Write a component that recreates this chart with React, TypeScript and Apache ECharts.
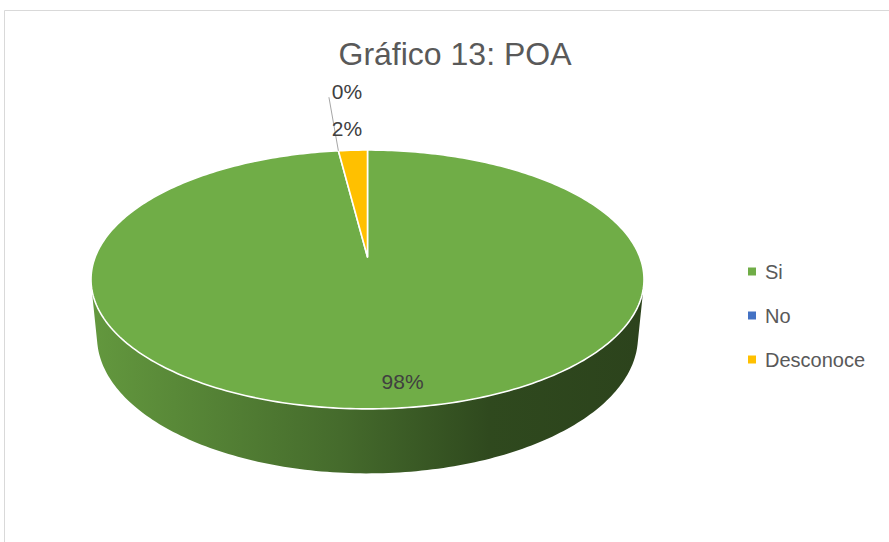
import React, { useEffect, useRef } from "react";
import * as echarts from "echarts";

// ---- data ----
const categories = ["Si", "No", "Desconoce"];
const values = [98, 0, 2];
const colors = ["#70AD47", "#4472C4", "#FFC000"];
const titleText = "Gráfico 13: POA";

// ---- 3D pie projection parameters (perspective camera) ----
const CX = 367.5;
const CY = 257;
const K = 1390.6;
const DIST = 5.107;
const EC = 0.887; // cos(elevation)
const ES = 0.461; // sin(elevation)
const THICK = 0.24;

const total = values.reduce((a, b) => a + b, 0);
const starts: number[] = [];
const ends: number[] = [];
{
  let acc = 0;
  values.forEach((v) => {
    starts.push((acc / total) * 360);
    acc += v;
    ends.push((acc / total) * 360);
  });
}

function proj(phiDeg: number, r: number, z: number): number[] {
  const a = (phiDeg * Math.PI) / 180;
  const u = r * Math.sin(a);
  const v = r * Math.cos(a);
  const depth = DIST + v * EC - z * ES;
  return [CX + (K * u) / depth, CY - (K * (v * ES + z * EC)) / depth];
}

function shade(hex: string, f: number): string {
  const h = hex.replace("#", "");
  const r = Math.round(parseInt(h.slice(0, 2), 16) * f);
  const g = Math.round(parseInt(h.slice(2, 4), 16) * f);
  const b = Math.round(parseInt(h.slice(4, 6), 16) * f);
  return `rgb(${r},${g},${b})`;
}

const VIS_MIN = (Math.acos(-1 / (DIST * EC)) * 180) / Math.PI;
const VIS_MAX = 360 - VIS_MIN;

function arcPoints(a0: number, a1: number, r: number, z: number): number[][] {
  const pts: number[][] = [];
  const step = a1 >= a0 ? 1 : -1;
  let a = a0;
  while (true) {
    const aa = step > 0 ? Math.min(a, a1) : Math.max(a, a1);
    pts.push(proj(aa, r, z));
    if (aa === a1) break;
    a += step;
  }
  return pts;
}

export default function App() {
  const ref = useRef<HTMLDivElement>(null);
  useEffect(() => {
    const chart = echarts.init(ref.current!, null, { renderer: "svg" });
    const xa = proj(VIS_MIN, 1, 0)[0];
    const xb = proj(VIS_MAX, 1, 0)[0];
    const leftX = Math.min(xa, xb);
    const rightX = Math.max(xa, xb);
    const font = "Liberation Sans, Arial, sans-serif";

    const sideSeries: any = {
      type: "custom",
      name: "side",
      coordinateSystem: "none",
      z: 1,
      silent: true,
      data: values.map((v, i) => [v, i]),
      renderItem: (params: any) => {
        const i = params.dataIndex;
        const a0 = Math.max(starts[i], VIS_MIN);
        const a1 = Math.min(ends[i], VIS_MAX);
        if (a1 <= a0) return { type: "group", children: [] };
        const pts = arcPoints(a0, a1, 1, 0).concat(arcPoints(a1, a0, 1, -THICK));
        const c = colors[i];
        return {
          type: "polygon",
          shape: { points: pts },
          style: {
            fill: {
              type: "linear",
              x: leftX,
              y: 0,
              x2: rightX,
              y2: 0,
              global: true,
              colorStops: [
                { offset: 0, color: shade(c, 0.88) },
                { offset: 0.45, color: shade(c, 0.62) },
                { offset: 0.72, color: shade(c, 0.42) },
                { offset: 1, color: shade(c, 0.39) },
              ],
            },
          },
        };
      },
    };

    const topSeries: any = {
      type: "custom",
      name: "top",
      coordinateSystem: "none",
      z: 2,
      silent: true,
      data: values.map((v, i) => [v, i]),
      renderItem: (params: any) => {
        const i = params.dataIndex;
        if (ends[i] - starts[i] <= 0) return { type: "group", children: [] };
        const pts = [proj(0, 0, 0)].concat(arcPoints(starts[i], ends[i], 1, 0));
        return {
          type: "polygon",
          shape: { points: pts },
          style: { fill: colors[i], stroke: "#ffffff", lineWidth: 1.6, lineJoin: "round" },
        };
      },
    };

    const smallIdx = values
      .map((v, i) => i)
      .filter((i) => values[i] / total < 0.1)
      .sort((a, b) => b - a);

    const labelSeries: any = {
      type: "custom",
      name: "labels",
      coordinateSystem: "none",
      z: 3,
      silent: true,
      data: values.map((v, i) => [v, i]),
      renderItem: (params: any) => {
        const i = params.dataIndex;
        const mid = (starts[i] + ends[i]) / 2;
        const txt = Math.round((values[i] / total) * 100) + "%";
        const textStyle = {
          fontFamily: font,
          fontSize: 21,
          fill: "#404040",
          align: "center",
          verticalAlign: "middle",
        };
        if (values[i] / total >= 0.1) {
          const p = proj(mid, 0.85, 0);
          return {
            type: "text",
            x: p[0] + 18,
            y: p[1],
            style: { text: txt, ...textStyle },
          };
        }
        const k = smallIdx.indexOf(i);
        const first = smallIdx[0];
        const anchor = proj((starts[first] + ends[first]) / 2, 1, 0);
        const lx = anchor[0] - 6;
        const ly = anchor[1] - 22 - 37 * k;
        const children: any[] = [
          { type: "text", x: lx, y: ly, style: { text: txt, ...textStyle } },
        ];
        if (k > 0) {
          const rp = proj(mid, 1, 0);
          children.push({
            type: "line",
            shape: { x1: rp[0], y1: rp[1], x2: lx - 18, y2: ly + 6 },
            style: { stroke: "#a6a6a6", lineWidth: 1 },
          });
        }
        return { type: "group", children };
      },
    };

    const legendPie: any = {
      type: "pie",
      name: "legend",
      center: [-200, -200],
      radius: [0, 1],
      silent: true,
      label: { show: false },
      labelLine: { show: false },
      data: categories.map((c, i) => ({ name: c, value: values[i] })),
    };

    chart.setOption({
      animation: false,
      color: colors,
      legend: {
        orient: "vertical",
        left: 743,
        top: 256,
        itemWidth: 8,
        itemHeight: 8,
        itemGap: 23,
        icon: "rect",
        data: categories,
        selectedMode: false,
        textStyle: {
          fontFamily: font,
          fontSize: 20,
          color: "#595959",
          lineHeight: 21,
          padding: [0, 0, 0, 4],
        },
      },
      graphic: [
        {
          type: "rect",
          shape: { x: 4.5, y: 10.5, width: 1000, height: 700 },
          style: { fill: "none", stroke: "#d9d9d9", lineWidth: 1 },
          silent: true,
          z: 0,
        },
        {
          type: "text",
          x: 455,
          y: 54,
          style: {
            text: titleText,
            fontFamily: font,
            fontSize: 32,
            fill: "#595959",
            align: "center",
            verticalAlign: "middle",
          },
          silent: true,
        },
      ],
      series: [sideSeries, topSeries, labelSeries, legendPie],
    });
    return () => chart.dispose();
  }, []);
  return (
    <div
      ref={ref}
      style={{ position: "fixed", left: 0, top: 0, width: 889, height: 542, background: "#fff" }}
    />
  );
}
